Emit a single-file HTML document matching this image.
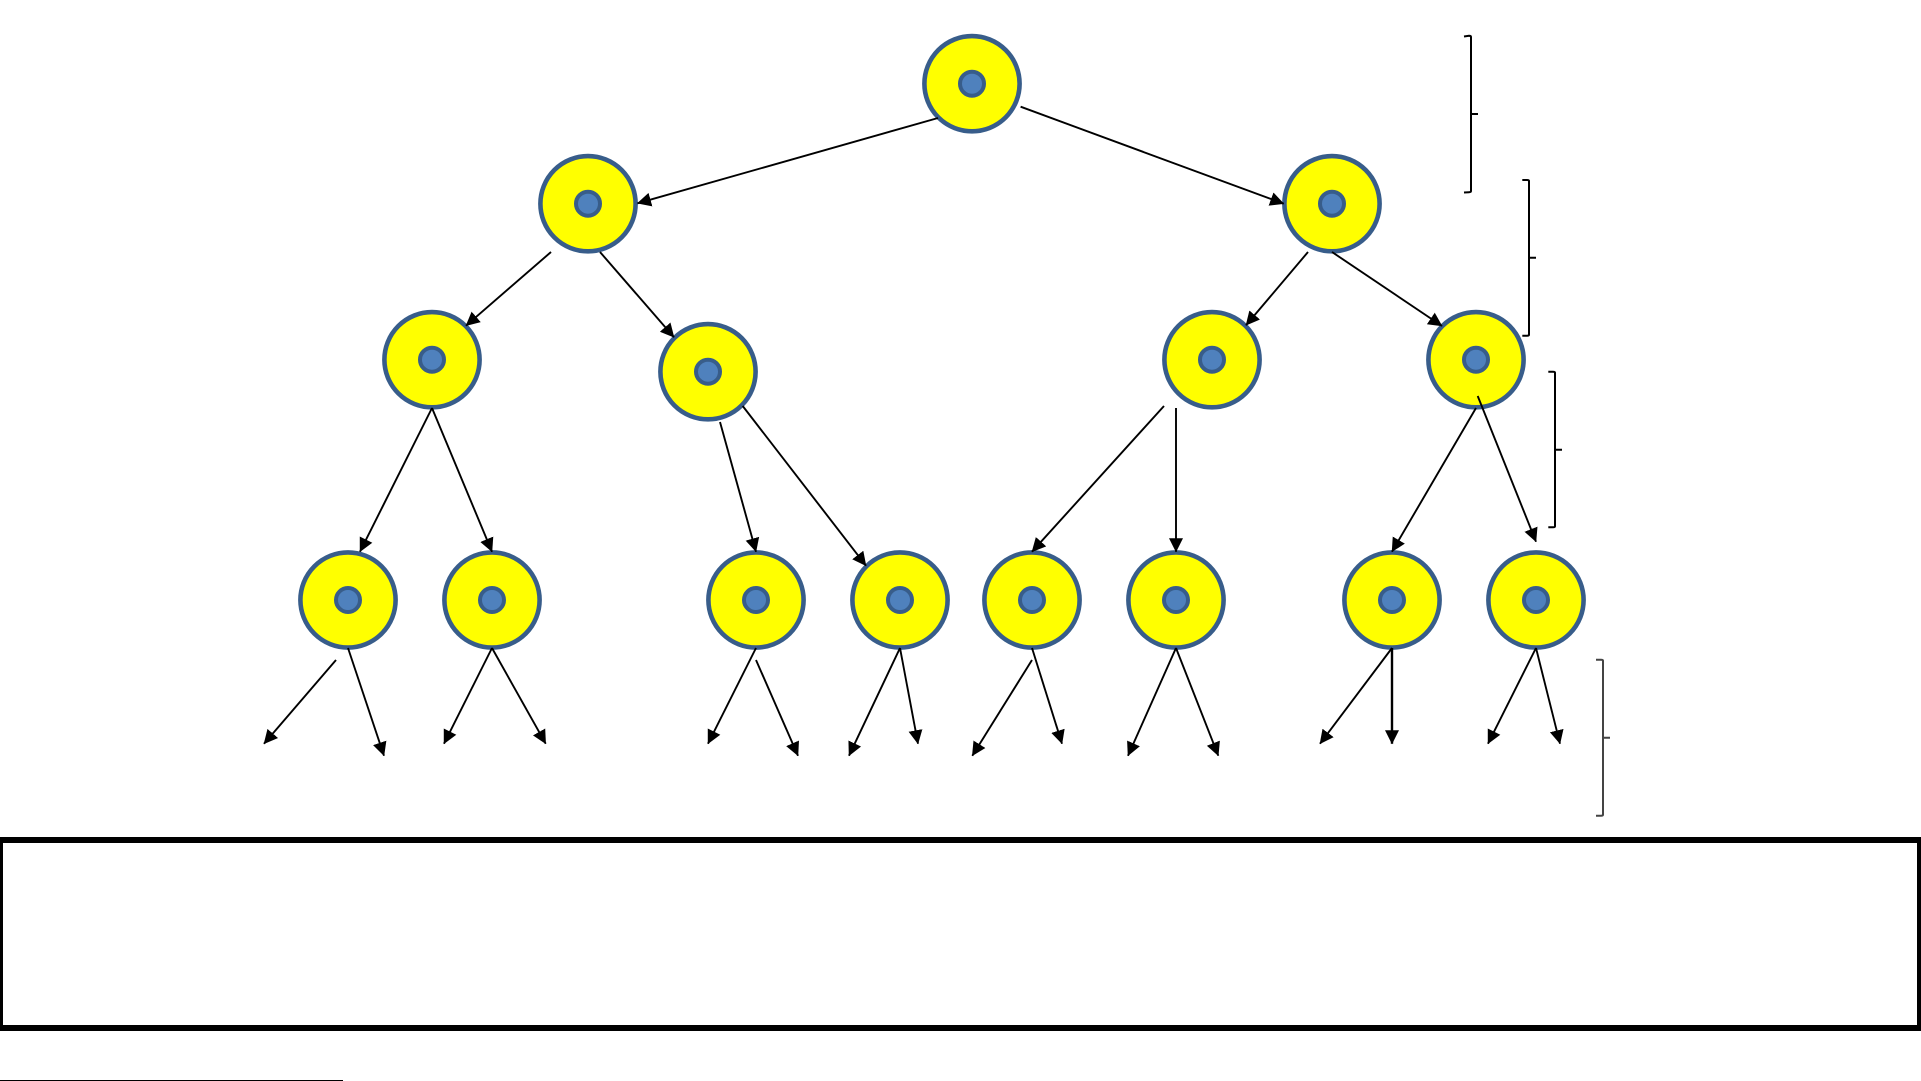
<!DOCTYPE html>
<html>
<head>
<meta charset="utf-8">
<style>
html,body{margin:0;padding:0;background:#fff;width:1921px;height:1081px;overflow:hidden}
svg{display:block}
</style>
</head>
<body>
<svg width="1921" height="1081" viewBox="0 0 1921 1081" xmlns="http://www.w3.org/2000/svg">
<defs>
<marker id="a" markerUnits="userSpaceOnUse" markerWidth="16" markerHeight="16" refX="13.5" refY="7.5" orient="auto">
<polygon points="0,0.5 14,7.5 0,14.5" fill="#000"/>
</marker>
<g id="n">
<circle r="47.6" fill="#FFFF00" stroke="#385D8A" stroke-width="4.6"/>
<circle r="12" fill="#4F81BD" stroke="#385D8A" stroke-width="4"/>
</g>
</defs>
<rect width="1921" height="1081" fill="#fff"/>

<!-- nodes -->
<use href="#n" x="972" y="83.7"/>
<use href="#n" x="588" y="203.7"/>
<use href="#n" x="1332" y="203.7"/>
<use href="#n" x="432" y="359.7"/>
<use href="#n" x="708" y="371.7"/>
<use href="#n" x="1212" y="359.7"/>
<use href="#n" x="1476" y="359.7"/>
<use href="#n" x="348" y="600"/>
<use href="#n" x="492" y="600"/>
<use href="#n" x="756" y="600"/>
<use href="#n" x="900" y="600"/>
<use href="#n" x="1032" y="600"/>
<use href="#n" x="1176" y="600"/>
<use href="#n" x="1392" y="600"/>
<use href="#n" x="1536" y="600"/>

<!-- connectors -->
<g stroke="#000" stroke-width="1.9" fill="none">
<line x1="938" y1="118" x2="637.5" y2="203.3" marker-end="url(#a)"/>
<line x1="1020.6" y1="106.7" x2="1283.7" y2="203.7" marker-end="url(#a)"/>
<line x1="551" y1="252" x2="466" y2="325.7" marker-end="url(#a)"/>
<line x1="600" y1="252" x2="674" y2="337.3" marker-end="url(#a)"/>
<line x1="1308" y1="252" x2="1246" y2="325.3" marker-end="url(#a)"/>
<line x1="1332" y1="252" x2="1442" y2="326" marker-end="url(#a)"/>
<line x1="432" y1="408" x2="360" y2="551.7" marker-end="url(#a)"/>
<line x1="432" y1="408" x2="492" y2="551.7" marker-end="url(#a)"/>
<line x1="720" y1="422" x2="756" y2="551.7" marker-end="url(#a)"/>
<line x1="742.7" y1="406" x2="866" y2="565.7" marker-end="url(#a)"/>
<line x1="1164" y1="406" x2="1032" y2="551.7" marker-end="url(#a)"/>
<line x1="1176" y1="408" x2="1176" y2="551.7" marker-end="url(#a)"/>
<line x1="1476" y1="408" x2="1392" y2="551.7" marker-end="url(#a)"/>
<line x1="1477.7" y1="396" x2="1536" y2="541.7" marker-end="url(#a)"/>

<line x1="336" y1="660" x2="264" y2="743.7" marker-end="url(#a)"/>
<line x1="348" y1="648" x2="384" y2="755.7" marker-end="url(#a)"/>
<line x1="492" y1="648" x2="444" y2="743.7" marker-end="url(#a)"/>
<line x1="492" y1="648" x2="545.7" y2="743.7" marker-end="url(#a)"/>
<line x1="756" y1="648" x2="708" y2="743.7" marker-end="url(#a)"/>
<line x1="756" y1="660" x2="798" y2="755.7" marker-end="url(#a)"/>
<line x1="900" y1="648" x2="849" y2="755.7" marker-end="url(#a)"/>
<line x1="900" y1="648" x2="918" y2="743.7" marker-end="url(#a)"/>
<line x1="1032" y1="660" x2="972.3" y2="755.7" marker-end="url(#a)"/>
<line x1="1032" y1="648" x2="1062" y2="743.7" marker-end="url(#a)"/>
<line x1="1176" y1="648" x2="1128" y2="755.7" marker-end="url(#a)"/>
<line x1="1176" y1="648" x2="1218.3" y2="755.7" marker-end="url(#a)"/>
<line x1="1392" y1="648" x2="1320" y2="743.7" marker-end="url(#a)"/>
<line x1="1392" y1="648" x2="1392" y2="743.7" stroke-width="2.4" marker-end="url(#a)"/>
<line x1="1536" y1="648" x2="1488" y2="743.7" marker-end="url(#a)"/>
<line x1="1536" y1="648" x2="1560" y2="743.7" marker-end="url(#a)"/>
</g>

<!-- braces -->
<g fill="none" stroke="#000" stroke-width="2">
<path d="M1464,36.5 L1469,35.8 Q1471,35.8 1471,37 V114 H1478 H1471 V191 Q1471,192.2 1469,192.2 L1464,192.5"/>
<path d="M1522.3,180 H1527 Q1529,180 1529,181 V257.7 H1536 H1529 V334.7 Q1529,335.7 1527,335.7 H1522.3"/>
<path d="M1548.3,371.7 H1553 Q1555,371.7 1555,372.7 V449.7 H1562 H1555 V526.3 Q1555,527.3 1553,527.3 H1548.3"/>
<path stroke="#444" d="M1596,659.7 H1601 Q1603,659.7 1603,660.7 V737.7 H1610 H1603 V814.7 Q1603,815.7 1601,815.7 H1596"/>
</g>

<!-- box -->
<rect x="0" y="837" width="1921" height="194" fill="#000"/>
<rect x="3" y="843" width="1914" height="182" fill="#fff"/>

<!-- footnote rule -->
<rect x="0" y="1080" width="343" height="1" fill="#000"/>
</svg>
</body>
</html>
